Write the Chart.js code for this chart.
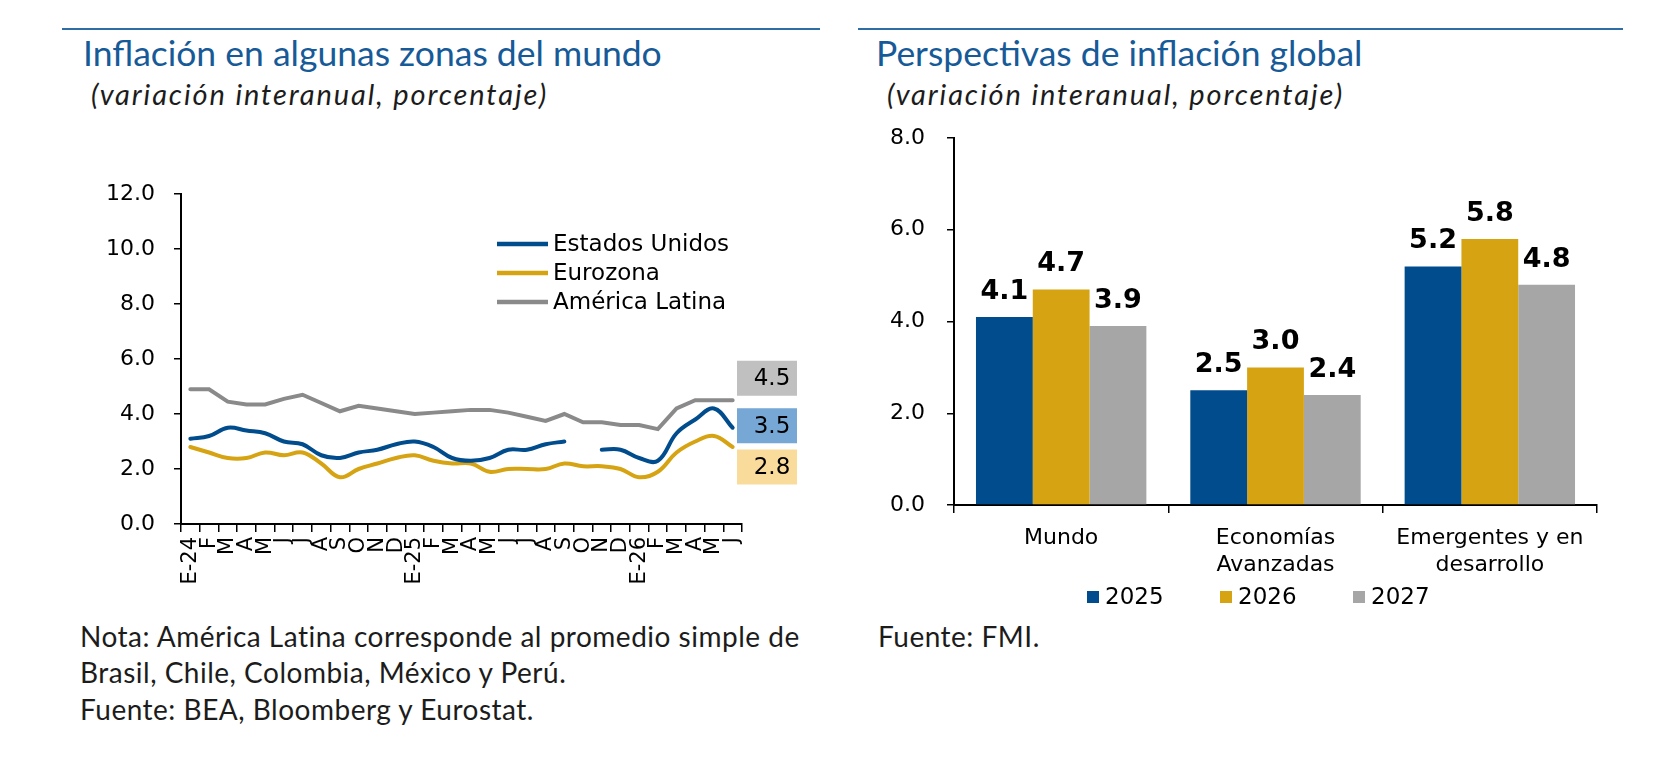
<!DOCTYPE html>
<html>
<head>
<meta charset="utf-8">
<script src="https://cdn.jsdelivr.net/npm/chart.js@4.4.1/dist/chart.umd.min.js"></script>
<style>
  body { margin: 0; width: 1662px; height: 758px; background: #fff; position: relative; overflow: hidden; font-family: Lato, sans-serif; }
  .rule { position: absolute; top: 28px; height: 2px; background: #2f6ea5; }
  .title { position: absolute; top: 30.5px; font-size: 35.5px; line-height: 44px; color: #175a98; white-space: nowrap; }
  .sub { position: absolute; top: 76.3px; font-size: 29px; line-height: 36px; font-style: italic; letter-spacing: 1.9px; color: #1c1c1c; white-space: nowrap; }
  .note { position: absolute; top: 617.5px; font-size: 28px; line-height: 36.7px; letter-spacing: 0.5px; color: #1c1c1c; white-space: nowrap; }
  canvas { position: absolute; top: 0; }
</style>
</head>
<body>
<div class="rule" style="left:62px; width:758px;"></div>
<div class="title" style="left:83px;">Inflación en algunas zonas del mundo</div>
<div class="sub" style="left:91px;">(variación interanual, porcentaje)</div>
<div class="note" style="left:80px;">Nota: América Latina corresponde al promedio simple de<br>Brasil, Chile, Colombia, México y Perú.<br>Fuente: BEA, Bloomberg y Eurostat.</div>

<div class="rule" style="left:858px; width:765px;"></div>
<div class="title" style="left:876px;">Perspectivas de inflación global</div>
<div class="sub" style="left:887px;">(variación interanual, porcentaje)</div>
<div class="note" style="left:878px;">Fuente: FMI.</div>

<canvas id="lineChart" width="831" height="758" style="left:0;"></canvas>
<canvas id="barChart" width="831" height="758" style="left:831px;"></canvas>

<script>
// Inflación en algunas zonas del mundo (E-24 a J-26)
const months = ['E-24', 'F', 'M', 'A', 'M', 'J', 'J', 'A', 'S', 'O', 'N', 'D',
                'E-25', 'F', 'M', 'A', 'M', 'J', 'J', 'A', 'S', 'O', 'N', 'D',
                'E-26', 'F', 'M', 'A', 'M', 'J'];
const seriesNames = ['Estados Unidos', 'Eurozona', 'América Latina'];
const usa = [3.1, 3.2, 3.5, 3.4, 3.3, 3.0, 2.9, 2.5, 2.4, 2.6, 2.7, 2.9,
             3.0, 2.8, 2.4, 2.3, 2.4, 2.7, 2.7, 2.9, 3.0, null, 2.7, 2.7,
             2.4, 2.3, 3.3, 3.8, 4.2, 3.5];
const euro = [2.8, 2.6, 2.4, 2.4, 2.6, 2.5, 2.6, 2.2, 1.7, 2.0, 2.2, 2.4,
              2.5, 2.3, 2.2, 2.2, 1.9, 2.0, 2.0, 2.0, 2.2, 2.1, 2.1, 2.0,
              1.7, 1.9, 2.6, 3.0, 3.2, 2.8];
const latam = [4.9, 4.9, 4.45, 4.35, 4.35, 4.55, 4.7, 4.4, 4.1, 4.3, 4.2, 4.1,
               4.0, 4.05, 4.1, 4.15, 4.15, 4.05, 3.9, 3.75, 4.0, 3.7, 3.7, 3.6,
               3.6, 3.45, 4.2, 4.5, 4.5, 4.5];
const lineTicks = [0, 12, 2]; // min, max, step

// Perspectivas de inflación global
const groups = [['Mundo'], ['Economías', 'Avanzadas'], ['Emergentes y en', 'desarrollo']];
const years = ['2025', '2026', '2027'];
const f2025 = [4.1, 2.5, 5.2];
const f2026 = [4.7, 3.0, 5.8];
const f2027 = [3.9, 2.4, 4.8];
const barTicks = [0, 8, 2];

const BLUE = '#004c8c';
const GOLD = '#d6a312';
const tickFont = { family: 'DejaVu Sans', size: 22 };

// end-of-line value boxes (fill colour, vertical shift to keep them apart)
const endFill = ['#76a7d5', '#f9dc9c', '#c0c0c0'];
const endShift = [-2, 20, -22];

const lineExtras = {
  id: 'lineExtras',
  afterDatasetsDraw(chart) {
    const { ctx, chartArea, scales: { y } } = chart;
    ctx.save();
    chart.data.datasets.forEach((ds, i) => {
      // legend
      const ly = 244 + i * 29;
      ctx.strokeStyle = ds.borderColor;
      ctx.lineWidth = 4.5;
      ctx.beginPath();
      ctx.moveTo(497, ly);
      ctx.lineTo(548, ly);
      ctx.stroke();
      ctx.font = '23px "DejaVu Sans"';
      ctx.fillStyle = '#000';
      ctx.textAlign = 'left';
      ctx.textBaseline = 'middle';
      ctx.fillText(ds.label, 553, ly + 1);
      // last value box
      const last = ds.data[ds.data.length - 1];
      const cy = y.getPixelForValue(last) + endShift[i];
      ctx.fillStyle = endFill[i];
      ctx.fillRect(chartArea.right - 5, cy - 17.5, 60, 35);
      ctx.fillStyle = '#000';
      ctx.textAlign = 'center';
      ctx.font = '23px "DejaVu Sans"';
      ctx.fillText(last.toFixed(1), chartArea.right + 30, cy + 1);
    });
    ctx.restore();
  }
};

new Chart(document.getElementById('lineChart'), {
  type: 'line',
  data: {
    labels: months,
    datasets: [
      { label: seriesNames[0], data: usa, borderColor: BLUE, tension: 0.4 },
      { label: seriesNames[1], data: euro, borderColor: GOLD, tension: 0.4 },
      { label: seriesNames[2], data: latam, borderColor: '#8a8a8a', tension: 0 }
    ]
  },
  options: {
    responsive: false,
    animation: false,
    spanGaps: false,
    elements: { point: { radius: 0 }, line: { borderWidth: 4, borderCapStyle: 'round' } },
    layout: { padding: { left: 81, right: 89, top: 194, bottom: 164 } },
    plugins: { legend: { display: false }, tooltip: { enabled: false } },
    scales: {
      x: {
        offset: true,
        grid: { offset: true, drawOnChartArea: false, tickLength: 8, color: '#000', lineWidth: 1.5 },
        border: { color: '#000', width: 2 },
        ticks: { autoSkip: false, minRotation: 90, maxRotation: 90, color: '#000', font: { family: 'DejaVu Sans', size: 21 }, padding: 5 },
        afterFit: s => { s.height = 70; }
      },
      y: {
        min: lineTicks[0], max: lineTicks[1],
        grid: { drawOnChartArea: false, tickLength: 7, color: '#000', lineWidth: 1.5 },
        border: { color: '#000', width: 2 },
        ticks: { stepSize: lineTicks[2], color: '#000', font: tickFont, padding: 19, callback: v => v.toFixed(1) },
        afterFit: s => { s.width = 100; }
      }
    }
  },
  plugins: [lineExtras]
});

const barExtras = {
  id: 'barExtras',
  afterDatasetsDraw(chart) {
    const { ctx } = chart;
    ctx.save();
    ctx.font = 'bold 27px "DejaVu Sans"';
    ctx.fillStyle = '#000';
    ctx.textAlign = 'center';
    ctx.textBaseline = 'alphabetic';
    chart.data.datasets.forEach((ds, i) => {
      chart.getDatasetMeta(i).data.forEach((bar, j) => {
        ctx.fillText(ds.data[j].toFixed(1), bar.x, bar.y - 18);
      });
    });
    // legend
    ctx.font = '23px "DejaVu Sans"';
    ctx.textAlign = 'left';
    ctx.textBaseline = 'middle';
    chart.data.datasets.forEach((ds, i) => {
      const lx = 256 + i * 133;
      ctx.fillStyle = ds.backgroundColor;
      ctx.fillRect(lx, 591, 12, 12);
      ctx.fillStyle = '#000';
      ctx.fillText(ds.label, lx + 18, 598);
    });
    ctx.restore();
  }
};

new Chart(document.getElementById('barChart'), {
  type: 'bar',
  data: {
    labels: groups,
    datasets: [
      { label: years[0], data: f2025, backgroundColor: BLUE },
      { label: years[1], data: f2026, backgroundColor: GOLD },
      { label: years[2], data: f2027, backgroundColor: '#a6a6a6' }
    ]
  },
  options: {
    responsive: false,
    animation: false,
    categoryPercentage: 0.795,
    barPercentage: 1.0,
    layout: { padding: { left: 23, right: 65, top: 138, bottom: 173 } },
    plugins: { legend: { display: false }, tooltip: { enabled: false } },
    scales: {
      x: {
        grid: { drawOnChartArea: false, tickLength: 8, color: '#000', lineWidth: 1.5 },
        border: { color: '#000', width: 2 },
        ticks: { color: '#000', font: { family: 'DejaVu Sans', size: 22, lineHeight: 1.22 }, padding: 12 },
        afterFit: s => { s.height = 80; }
      },
      y: {
        min: barTicks[0], max: barTicks[1],
        grid: { drawOnChartArea: false, tickLength: 7, color: '#000', lineWidth: 1.5 },
        border: { color: '#000', width: 2 },
        ticks: { stepSize: barTicks[2], color: '#000', font: tickFont, padding: 22, callback: v => v.toFixed(1) },
        afterFit: s => { s.width = 100; }
      }
    }
  },
  plugins: [barExtras]
});
</script>
</body>
</html>
